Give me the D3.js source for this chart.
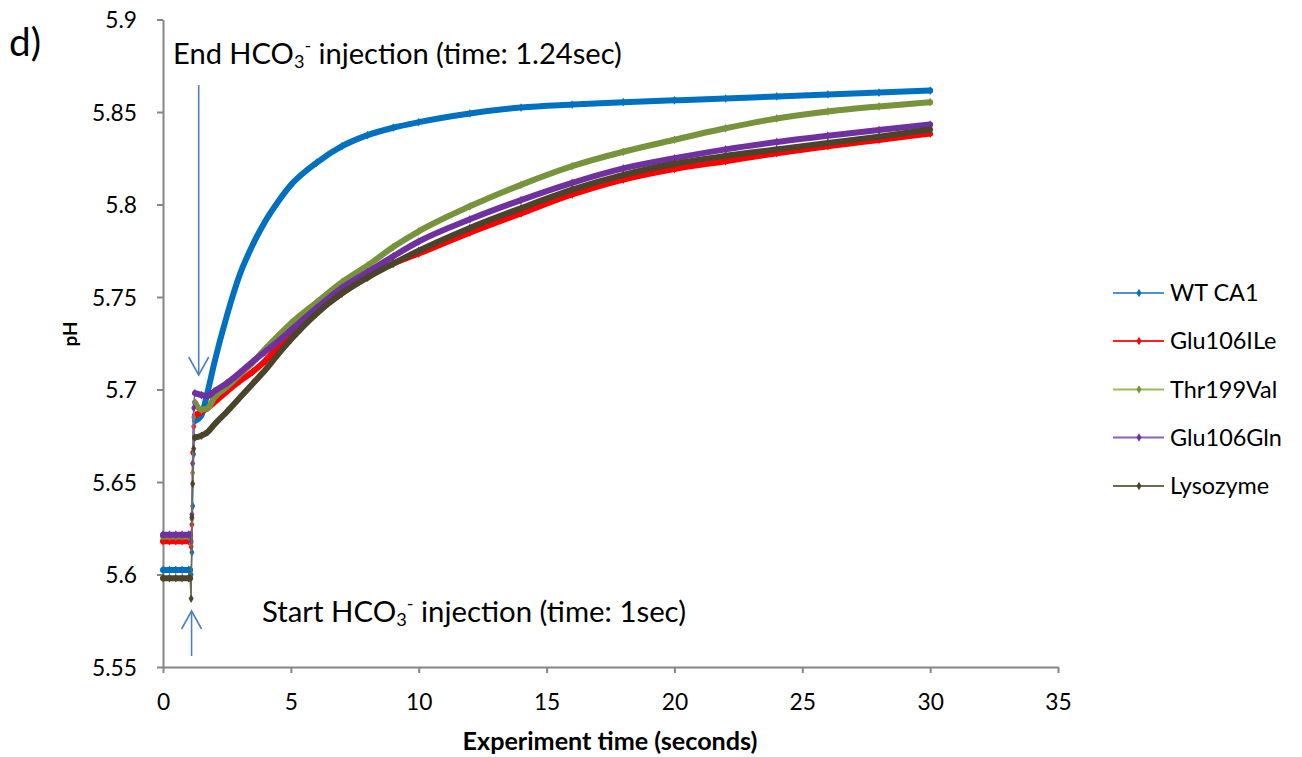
<!DOCTYPE html>
<html>
<head>
<meta charset="utf-8">
<script src="https://cdn.jsdelivr.net/npm/d3@7"></script>
<style>
  html, body { margin: 0; padding: 0; background: #fff; }
  svg { display: block; font-family: Lato, "Open Sans", sans-serif; }
</style>
</head>
<body>
<svg id="chart" width="1302" height="757"></svg>
<script>
// Sample times (seconds) for the pH traces
const times = [0, 0.25, 0.5, 0.75, 1.0, 1.06, 1.1, 1.13, 1.16, 1.2, 1.25, 1.5, 1.75, 2, 2.5, 3, 3.5, 4, 4.5, 5, 6, 7, 8, 9, 10, 12, 14, 16, 18, 20, 22, 24, 26, 28, 30];

// pH readings per sample
const wtCA1     = [5.6025, 5.6025, 5.6025, 5.6025, 5.6025, 5.6025, 5.600, 5.612, 5.637, 5.665, 5.683, 5.686, 5.699, 5.714, 5.740, 5.762, 5.778, 5.791, 5.8015, 5.8105, 5.8225, 5.8315, 5.8375, 5.8415, 5.8445, 5.8492, 5.8524, 5.854, 5.8553, 5.8563, 5.8573, 5.8584, 5.8595, 5.8605, 5.8616];
const glu106Ile = [5.618, 5.618, 5.618, 5.618, 5.618, 5.618, 5.615, 5.627, 5.666, 5.680, 5.686, 5.688, 5.690, 5.693, 5.699, 5.7045, 5.7095, 5.7155, 5.723, 5.730, 5.742, 5.752, 5.761, 5.768, 5.7735, 5.7848, 5.7952, 5.8054, 5.8135, 5.8192, 5.8234, 5.8277, 5.8315, 5.8349, 5.8383];
const thr199Val = [5.6205, 5.6205, 5.6205, 5.6205, 5.6205, 5.6205, 5.617, 5.630, 5.655, 5.685, 5.693, 5.689, 5.690, 5.6955, 5.7015, 5.708, 5.7145, 5.722, 5.729, 5.7357, 5.747, 5.758, 5.767, 5.777, 5.7855, 5.799, 5.8106, 5.8207, 5.8285, 5.835, 5.8412, 5.8465, 5.8503, 5.853, 5.8553];
const glu106Gln = [5.6215, 5.6215, 5.6215, 5.6215, 5.6215, 5.6215, 5.618, 5.6325, 5.660, 5.690, 5.698, 5.697, 5.6965, 5.699, 5.7035, 5.709, 5.715, 5.7205, 5.726, 5.732, 5.744, 5.755, 5.7635, 5.772, 5.780, 5.792, 5.8024, 5.8117, 5.8195, 5.825, 5.8298, 5.8338, 5.8372, 5.8403, 5.8432];
const lysozyme  = [5.598, 5.598, 5.598, 5.598, 5.598, 5.598, 5.587, 5.631, 5.649, 5.668, 5.674, 5.675, 5.677, 5.681, 5.688, 5.6955, 5.703, 5.7105, 5.719, 5.727, 5.741, 5.752, 5.7605, 5.768, 5.775, 5.7873, 5.798, 5.808, 5.816, 5.822, 5.8263, 5.8298, 5.8333, 5.8367, 5.8405];

const seriesNames = ["WT CA1", "Glu106ILe", "Thr199Val", "Glu106Gln", "Lysozyme"];
const seriesValues = [wtCA1, glu106Ile, thr199Val, glu106Gln, lysozyme];
const markerColors = ["#0070C0", "#FF0000", "#77933C", "#7030A0", "#4A452A"];
const lineColors   = ["#4F94D0", "#FF2020", "#9BBB59", "#8B62B8", "#6E6A52"];

const xTicks = [0, 5, 10, 15, 20, 25, 30, 35];
const yTicks = [5.55, 5.6, 5.65, 5.7, 5.75, 5.8, 5.85, 5.9];
const yTickLabels = ["5.55", "5.6", "5.65", "5.7", "5.75", "5.8", "5.85", "5.9"];

// Injection window (seconds)
const injectionStart = 1.0;
const injectionEnd = 1.24;

const svg = d3.select("#chart");
const axisColor = "#868686";

// Scale a text element's font size so that it spans the given width
function fitWidth(sel, width) {
  const node = sel.node();
  const fs = parseFloat(getComputedStyle(node).fontSize);
  const w = node.getComputedTextLength();
  const size = fs * width / w;
  sel.style("font-size", size.toFixed(2) + "px");
  return size;
}

const x = d3.scaleLinear().domain([0, 35]).range([163, 1058]);
const y = d3.scaleLinear().domain([5.55, 5.9]).range([667, 19.5]);

// Axes
const yAxis = svg.append("g")
  .attr("transform", `translate(${x(0)},0)`)
  .call(d3.axisLeft(y).tickValues(yTicks).tickSize(6).tickSizeOuter(0).tickPadding(20)
        .tickFormat((d, i) => yTickLabels[i]));
const xAxis = svg.append("g")
  .attr("transform", `translate(0,${y(5.55)})`)
  .call(d3.axisBottom(x).tickValues(xTicks).tickSize(6).tickSizeOuter(0).tickFormat(d3.format("d")));

[yAxis, xAxis].forEach(g => {
  g.select(".domain").attr("stroke", axisColor).attr("stroke-width", 2);
  g.selectAll(".tick line").attr("stroke", axisColor).attr("stroke-width", 2);
  g.selectAll(".tick text").attr("fill", "#000").style("font-family", "Lato, sans-serif");
});
// common tick label size, set from the width of a four-character label
const probe = svg.append("text").style("font-size", "20px").text("5.85");
const tickFont = fitWidth(probe, 45);
probe.remove();
yAxis.selectAll(".tick text").style("font-size", tickFont + "px").attr("dy", "0.36em");
xAxis.selectAll(".tick text").style("font-size", tickFont + "px").attr("y", 43).attr("dy", 0);

// Series
const line = d3.line()
  .x(d => x(d.t))
  .y(d => y(d.v))
  .curve(d3.curveMonotoneX);

const diamond = d3.symbol().type(d3.symbolDiamond).size(22);

seriesValues.forEach((vals, i) => {
  const pts = times.map((t, k) => ({ t, v: vals[k] }));
  const g = svg.append("g");
  // thin connecting line through every sample
  g.append("path").attr("d", line(pts))
    .attr("fill", "none").attr("stroke", lineColors[i]).attr("stroke-width", 1.5);
  // dense recording shown as a heavy band outside the injection window
  const before = pts.filter(p => p.t <= 1.06);
  const after = pts.filter(p => p.t >= 1.25);
  [before, after].forEach(seg => {
    g.append("path").attr("d", line(seg))
      .attr("fill", "none").attr("stroke", markerColors[i])
      .attr("stroke-width", 6).attr("stroke-linejoin", "round").attr("stroke-linecap", "round");
  });
  g.selectAll("path.mk").data(pts).join("path")
    .attr("class", "mk")
    .attr("d", diamond)
    .attr("transform", d => `translate(${x(d.t)},${y(d.v)})`)
    .attr("fill", markerColors[i]);
});

// Injection arrows
const arrowColor = "#4F81BD";
function arrow(xp, y1, y2) {
  const g = svg.append("g").attr("stroke", arrowColor).attr("stroke-width", 1.6).attr("fill", "none");
  g.append("line").attr("x1", xp).attr("x2", xp).attr("y1", y1).attr("y2", y2);
  const dir = y2 > y1 ? -1 : 1;
  g.append("path").attr("d", `M${xp - 10},${y2 + dir * 18}L${xp},${y2}L${xp + 10},${y2 + dir * 18}`);
}
arrow(x(injectionEnd) + 4, 85, 375);
arrow(x(injectionStart) + 3, 656, 611);

// Annotation labels with HCO3- notation
function chemLabel(xp, yp, before, after, width) {
  const t = svg.append("text").attr("x", xp).attr("y", yp)
    .style("font-size", "24px").attr("fill", "#000");
  t.append("tspan").text(before + "HCO");
  const sub = t.append("tspan").style("font-size", "0.62em").text("3");
  const sup = t.append("tspan").style("font-size", "0.62em").text("-");
  const rest = t.append("tspan").text(after);
  const fs = fitWidth(t, width);
  // shifts in pixels so the main text returns to its baseline
  const down = 0.14 * fs, up = 0.42 * fs;
  sub.attr("dy", down);
  sup.attr("dy", -(down + up));
  rest.attr("dy", up);
}
chemLabel(173, 64, "End ", " injection (time: 1.24sec)", 449);
chemLabel(262, 622, "Start ", " injection (time: 1sec)", 424);

// Axis titles and panel label
fitWidth(svg.append("text").attr("x", 610).attr("y", 750).attr("text-anchor", "middle")
  .style("font-size", "19px").style("font-weight", "bold").text("Experiment time (seconds)"), 295);
fitWidth(svg.append("text").attr("transform", "translate(77,334) rotate(-90)").attr("text-anchor", "middle")
  .style("font-size", "19px").style("font-weight", "bold").text("pH"), 25);
fitWidth(svg.append("text").attr("x", 9).attr("y", 56).style("font-size", "34px").text("d)"), 32);

// Legend
const legend = svg.append("g");
const legendRows = [293, 341, 389.5, 437.5, 486];
const lprobe = svg.append("text").style("font-size", "20px").text("Glu106Gln");
const legendFont = fitWidth(lprobe, 112);
lprobe.remove();
seriesNames.forEach((name, i) => {
  const ly = legendRows[i];
  legend.append("line").attr("x1", 1113).attr("x2", 1164).attr("y1", ly).attr("y2", ly)
    .attr("stroke", lineColors[i]).attr("stroke-width", 1.8);
  legend.append("path").attr("d", diamond).attr("transform", `translate(1139,${ly})`).attr("fill", markerColors[i]);
  legend.append("text").attr("x", 1170).attr("y", ly).attr("dy", "0.35em")
    .style("font-size", legendFont + "px").text(name);
});
</script>
</body>
</html>
